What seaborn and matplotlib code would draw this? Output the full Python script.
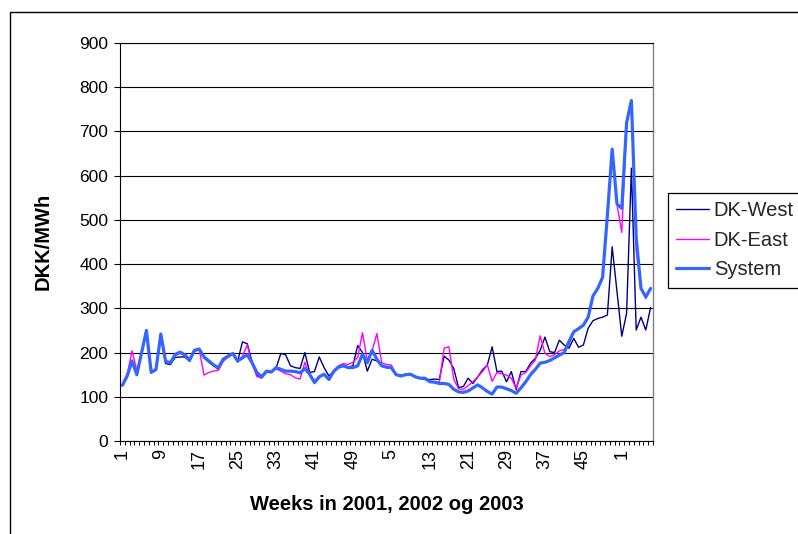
import numpy as np
import pandas as pd
import matplotlib
matplotlib.use("Agg")
import matplotlib.pyplot as plt
from matplotlib.patches import Rectangle
from matplotlib.ticker import FixedLocator, MultipleLocator
import seaborn as sns

# week numbers on the category axis: 2001 (1-52), 2002 (1-52), 2003 (1-7)
weeks = list(range(1, 53)) + list(range(1, 53)) + list(range(1, 8))

dk_west = [128, 150, 180, 150, 200, 248, 155, 160, 240, 175,
           173, 189, 190, 190, 180, 203, 207, 188, 178, 170,
           162, 183, 190, 196, 180, 224, 220, 180, 148, 145,
           158, 157, 165, 198, 195, 170, 166, 164, 200, 155,
           157, 190, 166, 147, 158, 168, 172, 167, 170, 216,
           200, 158, 185, 181, 170, 166, 164, 150, 149, 151,
           152, 145, 142, 139, 139, 140, 139, 192, 183, 164,
           121, 123, 142, 130, 145, 161, 172, 213, 157, 158,
           134, 157, 116, 157, 157, 176, 187, 205, 235, 202,
           200, 228, 217, 210, 232, 212, 217, 255, 272, 277,
           280, 285, 439, 338, 237, 289, 617, 251, 280, 251,
           302]

dk_east = [128, 150, 204, 160, 198, 245, 155, 162, 242, 178,
           176, 193, 198, 193, 182, 204, 207, 149, 155, 158,
           160, 180, 190, 197, 178, 192, 217, 175, 146, 142,
           155, 155, 163, 158, 152, 150, 143, 140, 178, 148,
           136, 147, 150, 140, 160, 170, 175, 173, 178, 189,
           245, 182, 204, 243, 177, 173, 172, 150, 148, 150,
           151, 146, 142, 141, 135, 134, 133, 210, 213, 140,
           118, 117, 125, 134, 145, 157, 172, 135, 155, 152,
           149, 142, 119, 149, 155, 170, 183, 238, 198, 191,
           195, 204, 207, 218, 247, 254, 262, 280, 328, 345,
           370, 510, 660, 535, 472, 715, 770, 430, 345, 322,
           345]

system = [126, 147, 181, 150, 200, 250, 155, 162, 242, 180,
          177, 196, 201, 195, 183, 205, 208, 190, 181, 172,
          166, 185, 192, 198, 181, 188, 195, 177, 155, 145,
          158, 156, 166, 162, 158, 158, 157, 154, 164, 151,
          132, 145, 151, 139, 157, 167, 170, 166, 166, 170,
          196, 177, 205, 185, 170, 167, 166, 150, 147, 150,
          151, 145, 142, 142, 134, 133, 130, 130, 128, 117,
          111, 110, 113, 120, 127, 120, 112, 106, 122, 122,
          118, 114, 108, 120, 134, 150, 162, 176, 178, 182,
          188, 194, 200, 225, 247, 254, 262, 280, 328, 345,
          370, 510, 660, 536, 526, 720, 770, 460, 345, 326,
          345]

series_names = ["DK-West", "DK-East", "System"]
series_colors = {"DK-West": "#000080", "DK-East": "#FF00FF", "System": "#3366FF"}
series_widths = {"DK-West": 1.0, "DK-East": 1.0, "System": 2.3}

idx = np.arange(len(weeks))
df = pd.DataFrame({"idx": idx, "DK-West": dk_west, "DK-East": dk_east, "System": system})
long_df = df.melt(id_vars="idx", value_vars=series_names, var_name="series", value_name="price")

sns.set_theme(style="white")
plt.rcParams["font.family"] = ["Liberation Sans", "DejaVu Sans"]

W, H = 798, 534
fig = plt.figure(figsize=(W / 100, H / 100), dpi=100)
ax = fig.add_axes([120 / W, 1 - 441 / H, (653 - 120) / W, (441 - 43) / H])

for name in series_names:
    sub = long_df[long_df["series"] == name]
    sns.lineplot(data=sub, x="idx", y="price", color=series_colors[name],
                 linewidth=series_widths[name], label=name, ax=ax, legend=False)

ax.set_xlim(-0.5, len(weeks) - 0.5)
ax.set_ylim(0, 900)
ax.set_xlabel("")
ax.set_ylabel("")

# y axis
ax.yaxis.set_major_locator(MultipleLocator(100))
ax.yaxis.grid(True, color="black", linewidth=0.8)
ax.xaxis.grid(False)
ax.tick_params(axis="y", which="major", direction="out", length=4.3, width=0.8,
               color="black", labelsize=12.5, pad=4, left=True, labelcolor="black")

# x axis: labels every 8th week, tick marks between all categories
label_pos = idx[::8]
ax.xaxis.set_major_locator(FixedLocator(label_pos))
ax.set_xticklabels([str(weeks[i]) for i in label_pos], rotation=90, va="top", ha="center")
ax.xaxis.set_minor_locator(FixedLocator(np.arange(-0.5, len(weeks), 1)))
ax.tick_params(axis="x", which="major", length=0, labelsize=13, pad=6, labelcolor="black")
ax.tick_params(axis="x", which="minor", direction="out", length=3, width=0.7,
               color="black", bottom=True)

for side in ["left", "bottom", "top"]:
    ax.spines[side].set_color("black")
    ax.spines[side].set_linewidth(0.8)
ax.spines["right"].set_color("#808080")
ax.spines["right"].set_linewidth(1.0)

fig.text(43 / W, 1 - 241 / H, "DKK/MWh", rotation=90, ha="center", va="center",
         fontsize=14.5, fontweight="bold", color="black")
fig.text(386.5 / W, 1 - 505 / H, "Weeks in 2001, 2002 og 2003", ha="center", va="center",
         fontsize=14.5, fontweight="bold", color="black")

leg = ax.legend(loc="upper left", bbox_to_anchor=(668 / W, 1 - 193 / H),
                bbox_transform=fig.transFigure, frameon=True, fancybox=False,
                edgecolor="black", framealpha=1, fontsize=14.5, handlelength=1.6,
                handletextpad=0.25, borderpad=0.42, labelspacing=0.52, borderaxespad=0)
leg.get_frame().set_linewidth(0.9)

# chart area border (cut off on the right and bottom)
fig.add_artist(Rectangle((10 / W, -0.1), 1.2, 1.1 - 12 / H, transform=fig.transFigure,
                         fill=False, edgecolor="black", linewidth=1.0))

fig.savefig("out.png", dpi=100, facecolor="white")
